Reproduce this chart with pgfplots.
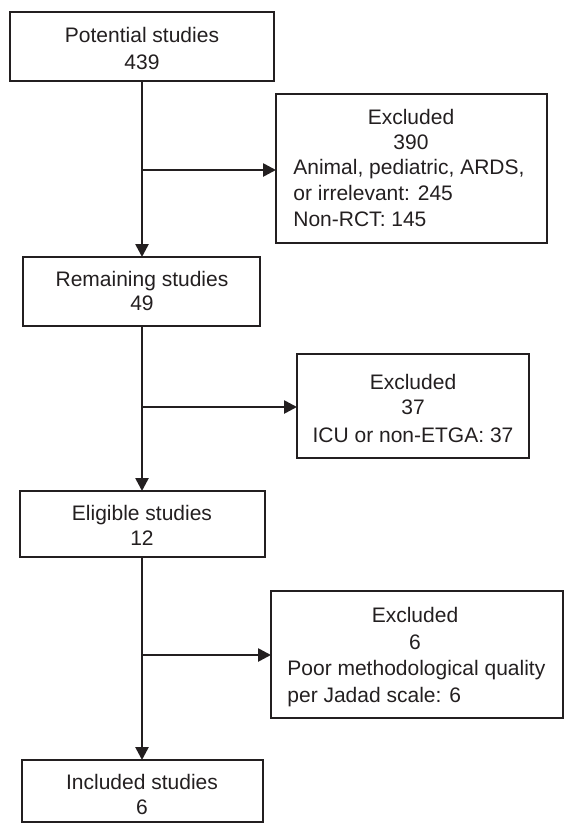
\documentclass[border=0pt]{standalone}
\usepackage{pgfplots}
\pgfplotsset{compat=1.18}
\usepackage{fontspec}
\setmainfont{Liberation Sans}
\usetikzlibrary{arrows.meta}
\definecolor{ink}{HTML}{231F20}
\tikzset{txt/.style={font=\fontsize{10.5}{12.5}\selectfont, text=ink, inner sep=0pt}}
\begin{document}
\begin{tikzpicture}
\begin{axis}[
  hide axis, scale only axis,
  width=282.5pt, height=412pt,
  xmin=0, xmax=565, ymin=0, ymax=824, y dir=reverse,
  clip=false,
  every axis plot/.append style={line width=1.3pt, color=ink, mark=none, line cap=rect},
]
\addplot[draw=none, forget plot] coordinates {(0,0) (565,824)};
% boxes
\addplot[sharp corners] coordinates {(10,12) (274,12) (274,81) (10,81) (10,12)};
\addplot[sharp corners] coordinates {(276,94) (547,94) (547,243) (276,243) (276,94)};
\addplot[sharp corners] coordinates {(23,257) (260,257) (260,326) (23,326) (23,257)};
\addplot[sharp corners] coordinates {(297,354) (529,354) (529,458) (297,458) (297,354)};
\addplot[sharp corners] coordinates {(20,491) (265,491) (265,557) (20,557) (20,491)};
\addplot[sharp corners] coordinates {(271,591) (563,591) (563,718) (271,718) (271,591)};
\addplot[sharp corners] coordinates {(22,760) (263,760) (263,822) (22,822) (22,760)};
% vertical connectors
\addplot[line cap=butt, -{Triangle[length=6.5pt,width=6.5pt]}] coordinates {(142,81) (142,257)};
\addplot[line cap=butt, -{Triangle[length=6.5pt,width=6.5pt]}] coordinates {(142,326) (142,491)};
\addplot[line cap=butt, -{Triangle[length=6.5pt,width=6.5pt]}] coordinates {(142,557) (142,760)};
% horizontal arrows
\addplot[line cap=butt, -{Triangle[length=6.5pt,width=6.5pt]}] coordinates {(142,170) (276,170)};
\addplot[line cap=butt, -{Triangle[length=6.5pt,width=6.5pt]}] coordinates {(142,407) (297,407)};
\addplot[line cap=butt, -{Triangle[length=6.5pt,width=6.5pt]}] coordinates {(142,655) (271,655)};
% texts (baselines = centre + 7.5)
\node[txt, anchor=base] at (axis cs:142,42.5) {Potential studies};
\node[txt, anchor=base] at (axis cs:142,69.5) {439};
\node[txt, anchor=base] at (axis cs:411,124.5) {Excluded};
\node[txt, anchor=base] at (axis cs:411,149.5) {390};
\node[txt, anchor=base west] at (axis cs:293,174.5) {Animal, pediatric, ARDS,};
\node[txt, anchor=base west] at (axis cs:293,200) {or irrelevant: 245};
\node[txt, anchor=base west] at (axis cs:293,226) {Non-RCT: 145};
\node[txt, anchor=base] at (axis cs:142,286.5) {Remaining studies};
\node[txt, anchor=base] at (axis cs:142,310.5) {49};
\node[txt, anchor=base] at (axis cs:413,389.5) {Excluded};
\node[txt, anchor=base] at (axis cs:413,414.5) {37};
\node[txt, anchor=base] at (axis cs:413,442.5) {ICU or non-ETGA: 37};
\node[txt, anchor=base] at (axis cs:142,520.5) {Eligible studies};
\node[txt, anchor=base] at (axis cs:142,545.5) {12};
\node[txt, anchor=base] at (axis cs:415,622.5) {Excluded};
\node[txt, anchor=base] at (axis cs:415,649.5) {6};
\node[txt, anchor=base west] at (axis cs:287,675.5) {Poor methodological quality};
\node[txt, anchor=base west] at (axis cs:287,702.5) {per Jadad scale: 6};
\node[txt, anchor=base] at (axis cs:142,789.5) {Included studies};
\node[txt, anchor=base] at (axis cs:142,814.5) {6};
\end{axis}
\end{tikzpicture}
\end{document}
